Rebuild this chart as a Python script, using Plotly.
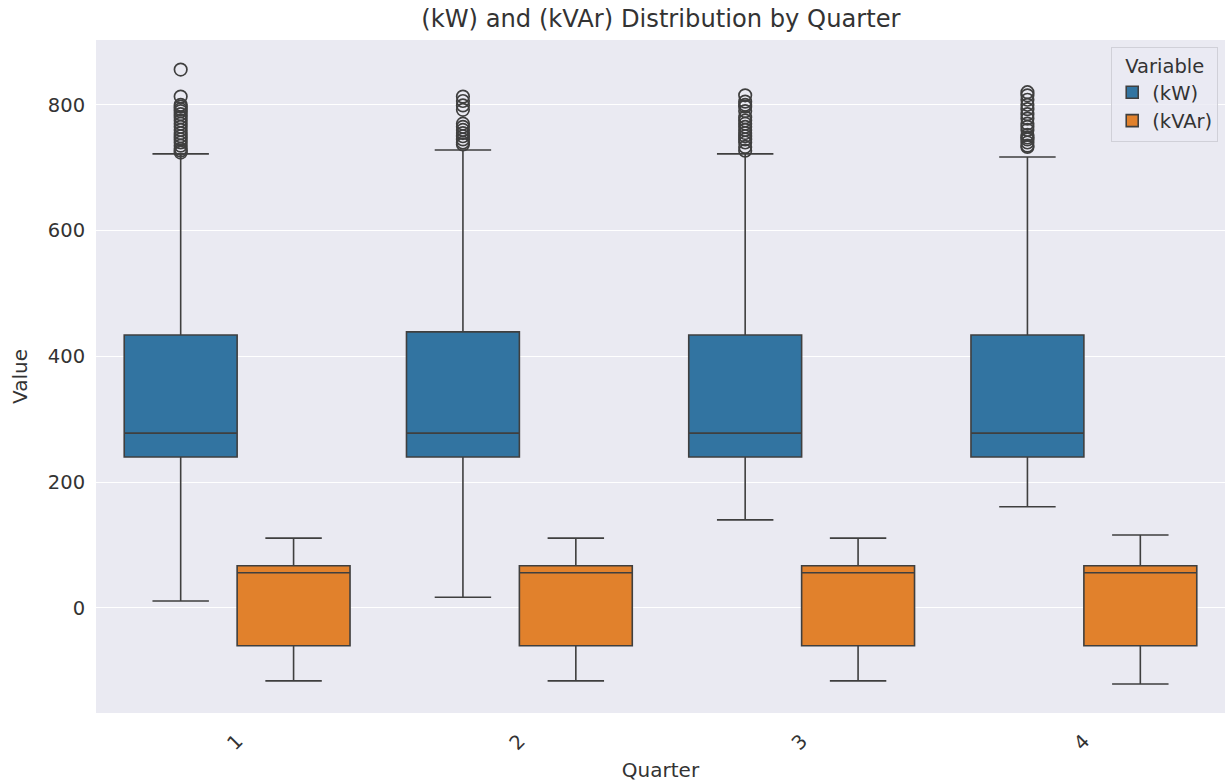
import plotly.graph_objects as go

quarters = ["1", "2", "3", "4"]
variables = ["(kW)", "(kVAr)"]

# box statistics
kw_lower = [11, 17, 140, 161]
kw_q1 = [240, 240, 240, 240]
kw_median = [278, 278, 278, 278]
kw_q3 = [434, 439, 434, 434]
kw_upper = [722, 728, 722, 717]

kvar_lower = [-116, -116, -116, -121]
kvar_q1 = [-60, -60, -60, -60]
kvar_median = [56, 56, 56, 56]
kvar_q3 = [67, 67, 67, 67]
kvar_upper = [111, 111, 111, 116]

kw_outliers = [
    [856, 813, 800, 797, 793, 790, 785, 780, 775, 770, 765, 760, 755, 750, 745, 740, 735, 730, 727, 724],
    [813, 806, 799, 792, 770, 765, 760, 755, 750, 745, 740, 737],
    [815, 805, 800, 797, 790, 780, 775, 770, 765, 760, 755, 750, 745, 740, 733, 727],
    [820, 815, 808, 800, 793, 785, 778, 770, 765, 760, 752, 748, 745, 740, 735, 733],
]

colors = ["#3274a1", "#e1812c"]
line_col = "#3f3f3f"
offset = 0.2
pos = list(range(len(quarters)))

fig = go.Figure()
stats = [
    (kw_lower, kw_q1, kw_median, kw_q3, kw_upper),
    (kvar_lower, kvar_q1, kvar_median, kvar_q3, kvar_upper),
]
for i, (name, col, st) in enumerate(zip(variables, colors, stats)):
    lo, q1, med, q3, up = st
    xs = [p + (offset if i == 1 else -offset) for p in pos]
    fig.add_trace(go.Box(
        name=name, x=xs, q1=q1, median=med, q3=q3,
        lowerfence=lo, upperfence=up, width=0.4,
        fillcolor=col, line=dict(color=line_col, width=1.6),
        boxpoints=False, whiskerwidth=0.5, hoverinfo="y",
    ))

ox, oy = [], []
for p, vals in zip(pos, kw_outliers):
    for v in vals:
        ox.append(p - offset)
        oy.append(v)
fig.add_trace(go.Scatter(
    x=ox, y=oy, mode="markers", showlegend=False,
    marker=dict(symbol="circle-open", size=12.5, color=line_col, line=dict(width=1.7, color=line_col)),
))

font_fam = "DejaVu Sans"
fig.update_layout(
    width=1225, height=782,
    margin=dict(l=96, r=0, t=40, b=69),
    paper_bgcolor="white", plot_bgcolor="#eaeaf2",
    font=dict(family=font_fam, size=19.5, color="#333333"),
    title=dict(text="(kW) and (kVAr) Distribution by Quarter", x=0.5395, xanchor="center",
               y=0.976, yanchor="middle", font=dict(size=24.2, color="#333333")),
    showlegend=True,
    legend=dict(
        x=0.994, xanchor="right", y=0.99, yanchor="top",
        bgcolor="rgba(234,234,242,0.8)", bordercolor="#d0d0d8", borderwidth=1,
        title=dict(text="Variable", side="top center", font=dict(size=19.5)),
        font=dict(size=19.5), tracegroupgap=2,
    ),
)
fig.update_xaxes(
    range=[-0.5, 3.5], tickvals=pos, ticktext=quarters, tickangle=-45,
    showgrid=False, zeroline=False, showline=False, ticks="outside", ticklen=8, tickcolor="rgba(0,0,0,0)",
    title=dict(text="Quarter", font=dict(size=20), standoff=9),
)
fig.update_yaxes(
    range=[-167, 903], tickvals=[0, 200, 400, 600, 800],
    showgrid=True, gridcolor="white", gridwidth=1.2, zeroline=False, showline=False,
    ticks="outside", ticklen=6, tickcolor="rgba(0,0,0,0)",
    title=dict(text="Value", font=dict(size=20), standoff=14),
)

fig.write_html("out.html")
